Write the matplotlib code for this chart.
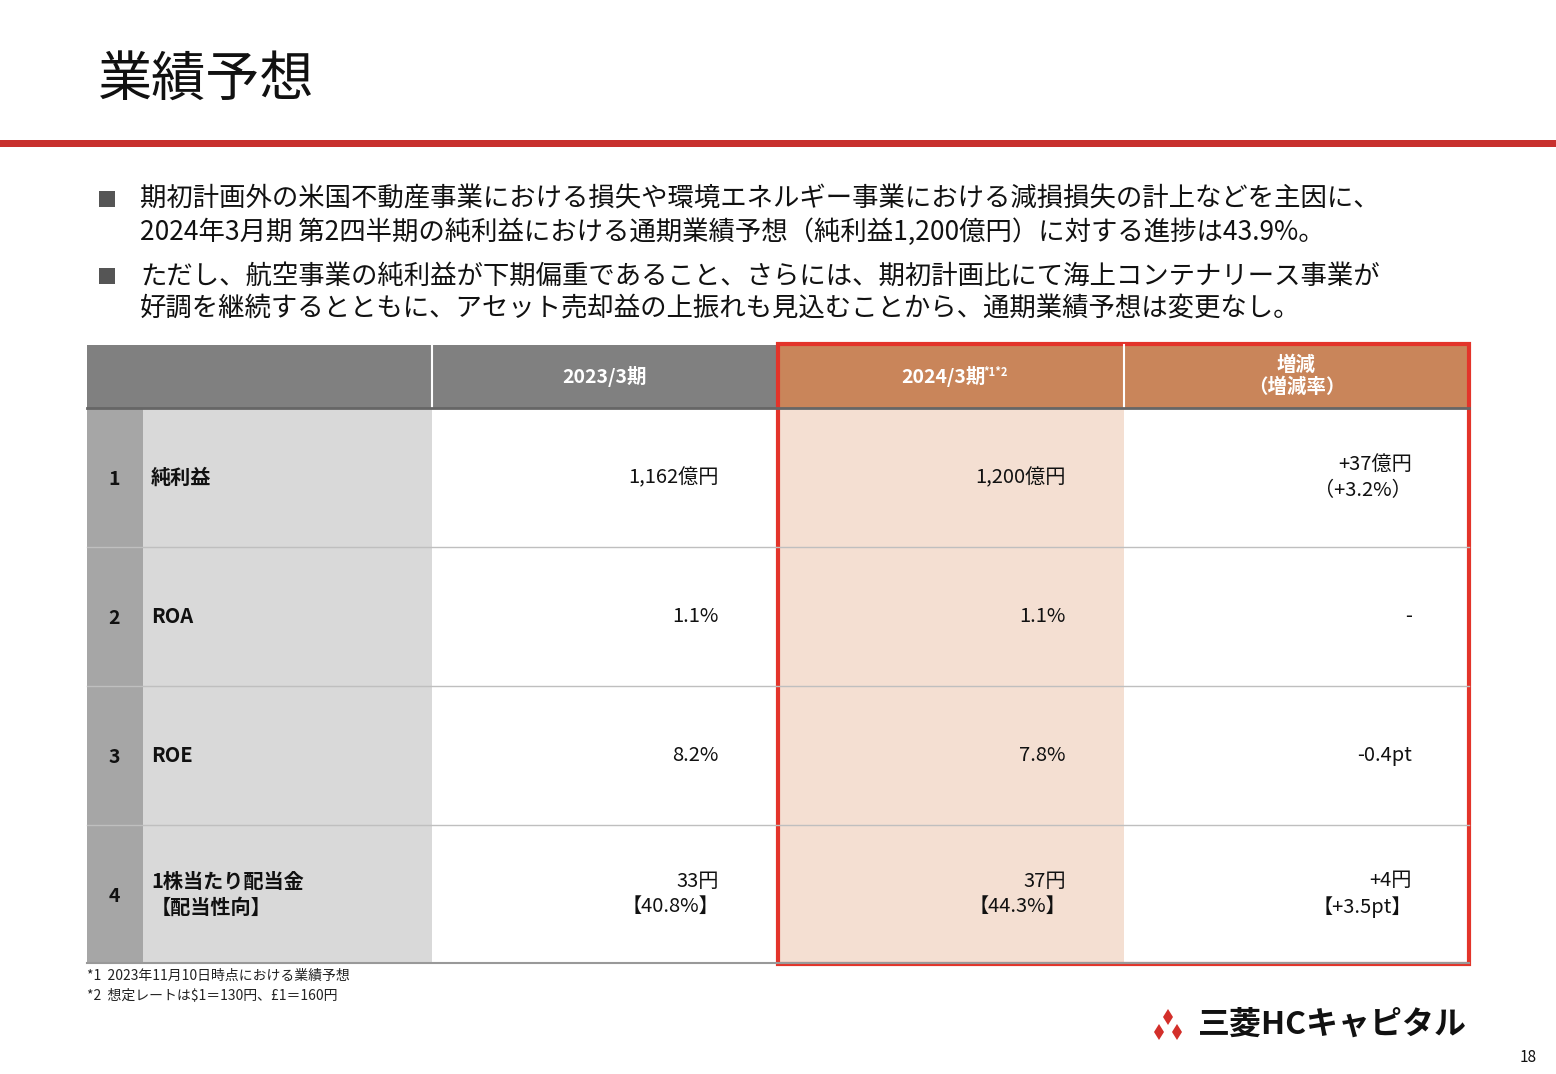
import matplotlib
matplotlib.use("Agg")
import matplotlib.pyplot as plt
from matplotlib.patches import Rectangle, Polygon

plt.rcParams["font.family"] = ["Noto Sans CJK JP"]

title = "業績予想"
bullets = [
    ["期初計画外の米国不動産事業における損失や環境エネルギー事業における減損損失の計上などを主因に、",
     "2024年3月期 第2四半期の純利益における通期業績予想（純利益1,200億円）に対する進捗は43.9%。"],
    ["ただし、航空事業の純利益が下期偏重であること、さらには、期初計画比にて海上コンテナリース事業が",
     "好調を継続するとともに、アセット売却益の上振れも見込むことから、通期業績予想は変更なし。"],
]
row_numbers = ["1", "2", "3", "4"]
categories = ["純利益", "ROA", "ROE", "1株当たり配当金\n【配当性向】"]
values_2023 = ["1,162億円", "1.1%", "8.2%", "33円\n【40.8%】"]
values_2024 = ["1,200億円", "1.1%", "7.8%", "37円\n【44.3%】"]
changes = ["+37億円\n（+3.2%）", "-", "-0.4pt", "+4円\n【+3.5pt】"]
footnotes = ["*1  2023年11月10日時点における業績予想", "*2  想定レートは$1＝130円、£1＝160円"]

fig = plt.figure(figsize=(15.56, 10.74), dpi=100)
ax = fig.add_axes([0, 0, 1, 1])
ax.set_xlim(0, 1556); ax.set_ylim(1074, 0); ax.axis("off")

ax.text(98, 80, title, fontsize=39, va="center", ha="left", color="#111")
ax.add_patch(Rectangle((0, 140), 1556, 7, color="#C8302E", lw=0))

by = [199, 276]
for b, lines in zip(by, bullets):
    ax.add_patch(Rectangle((99, b - 8), 16, 16, color="#555", lw=0))
    for i, ln in enumerate(lines):
        ax.text(140, b + i * 33, ln, fontsize=19, va="center", ha="left", color="#111")

# table
x0, xn, xl, x2, x3, x4, xe = 87, 143, 432, 778, 1124, 1469, 1469
yh0, yh1 = 345, 408
rows = [408, 547, 686, 825, 963]
ax.add_patch(Rectangle((x0, yh0), x2 - x0, yh1 - yh0, color="#808080", lw=0))
ax.add_patch(Rectangle((x2, yh0), xe - x2, yh1 - yh0, color="#C9855A", lw=0))
ax.plot([xl, xl], [yh0, yh1], color="white", lw=1.5)
ax.plot([x3, x3], [yh0, yh1], color="white", lw=1.5)
ax.add_patch(Rectangle((x0, rows[0]), xn - x0, rows[-1] - rows[0], color="#A6A6A6", lw=0))
ax.add_patch(Rectangle((xn, rows[0]), xl - xn, rows[-1] - rows[0], color="#D9D9D9", lw=0))
ax.add_patch(Rectangle((x2, rows[0]), x3 - x2, rows[-1] - rows[0], color="#F4DFD2", lw=0))
ax.plot([x0, xe], [yh1, yh1], color="#666", lw=2)
for r in rows[1:-1]:
    ax.plot([x0, xe], [r, r], color="#BFBFBF", lw=1)
ax.plot([x0, xe], [rows[-1], rows[-1]], color="#999", lw=1.5)

hy = (yh0 + yh1) / 2
ax.text((xl + x2) / 2, hy, "2023/3期", fontsize=14, fontweight="bold", color="white", ha="center", va="center")
ax.text((x2 + x3) / 2 - 8, hy, "2024/3期", fontsize=14, fontweight="bold", color="white", ha="center", va="center")
ax.text((x2 + x3) / 2 + 32, hy - 4, "*1*2", fontsize=8, fontweight="bold", color="white", ha="left", va="center")
ax.text((x3 + xe) / 2, hy, "増減\n（増減率）", fontsize=14, fontweight="bold", color="white", ha="center", va="center", linespacing=1.2)

for i in range(4):
    cy = (rows[i] + rows[i + 1]) / 2
    ax.text(114, cy + 2, row_numbers[i], fontsize=14, fontweight="bold", ha="center", va="center", color="#111")
    ax.text(151, cy, categories[i], fontsize=14.5, fontweight="bold", ha="left", va="center", color="#111", linespacing=1.3)
    ax.text(719, cy, values_2023[i], fontsize=14.5, ha="right", va="center", color="#111", linespacing=1.3)
    ax.text(1066, cy, values_2024[i], fontsize=14.5, ha="right", va="center", color="#111", linespacing=1.3)
    ax.text(1412, cy, changes[i], fontsize=14.5, ha="right", va="center", color="#111", linespacing=1.3)

ax.add_patch(Rectangle((x2, yh0 - 1), xe - x2, rows[-1] - yh0 + 2, fill=False, ec="#E3342A", lw=3))

for i, f in enumerate(footnotes):
    ax.text(87, 976 + i * 20, f, fontsize=10, ha="left", va="center", color="#222")

# logo (three diamonds)
cx, cy = 1168, 1026
for px, py in [(cx, cy - 9), (cx - 9, cy + 6), (cx + 9, cy + 6)]:
    ax.add_patch(Polygon([(px, py - 8), (px + 5, py), (px, py + 8), (px - 5, py)], color="#D32F2A", lw=0))
ax.text(1198, 1025, "三菱HCキャピタル", fontsize=23, fontweight="bold", ha="left", va="center", color="#111")
ax.text(1528, 1058, "18", fontsize=11, ha="center", va="center", color="#111")

fig.savefig("out.png", dpi=100)
